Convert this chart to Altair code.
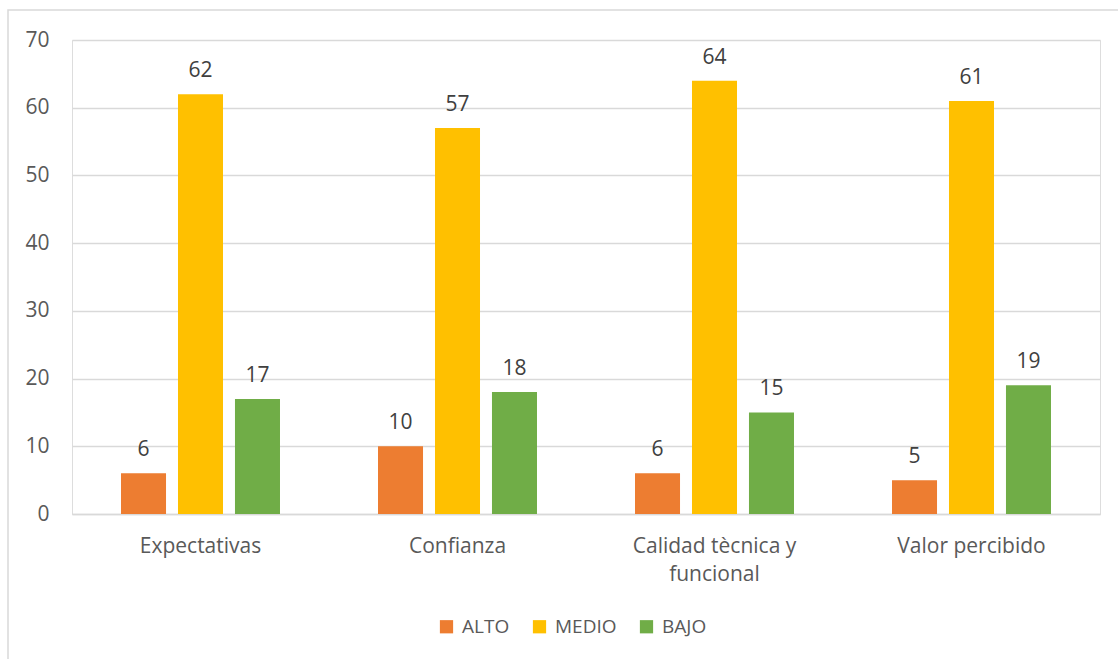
import altair as alt
import pandas as pd

categories = ["Expectativas", "Confianza", "Calidad tècnica y funcional", "Valor percibido"]
series = ["ALTO", "MEDIO", "BAJO"]
alto = [6, 10, 6, 5]
medio = [62, 57, 64, 61]
bajo = [17, 18, 15, 19]
colors = ["#ED7D31", "#FFC000", "#70AD47"]
y_ticks = [0, 10, 20, 30, 40, 50, 60, 70]

rows = []
for i, c in enumerate(categories):
    for s, vals in zip(series, [alto, medio, bajo]):
        rows.append({"cat": c, "serie": s, "valor": vals[i]})
df = pd.DataFrame(rows)

FONT = "Open Sans"
TXT = "#595959"
FS = 21

base = alt.Chart(df).encode(
    x=alt.X("cat:N", sort=categories, title=None,
            scale=alt.Scale(paddingInner=0, paddingOuter=0),
            axis=alt.Axis(labelAngle=0, labelFontSize=FS, labelColor=TXT, labelFont=FONT,
                          ticks=False, domainColor="#d9d9d9", domainWidth=1.5,
                          labelPadding=21, labelLineHeight=28,
                          labelExpr="datum.label == 'Calidad tècnica y funcional' ? ['Calidad tècnica y', 'funcional'] : datum.label")),
    xOffset=alt.XOffset("serie:N", sort=series,
                        scale=alt.Scale(paddingInner=0.21, paddingOuter=0.86)),
)

bars = base.mark_bar().encode(
    y=alt.Y("valor:Q", title=None,
            scale=alt.Scale(domain=[0, 70], nice=False),
            axis=alt.Axis(values=y_ticks, labelFontSize=FS, labelColor=TXT, labelFont=FONT,
                          ticks=False, domain=False, gridColor="#d9d9d9", gridWidth=1.5,
                          labelPadding=23)),
    color=alt.Color("serie:N", sort=series,
                    scale=alt.Scale(domain=series, range=colors),
                    legend=alt.Legend(title=None, orient="none", direction="horizontal",
                                      legendX=365, legendY=577, symbolType="square",
                                      symbolSize=175, symbolStrokeWidth=0,
                                      labelFontSize=19, labelColor=TXT, labelFont=FONT,
                                      labelOffset=6, columnPadding=20, padding=0)),
)

labels = base.mark_text(baseline="bottom", dy=-13, fontSize=FS, font=FONT, color="#404040").encode(
    y=alt.Y("valor:Q"),
    text=alt.Text("valor:Q"),
)

border = alt.Chart(pd.DataFrame({"a": [0]})).mark_rect(
    fill=None, stroke="#d9d9d9", strokeWidth=1.5
).encode(
    x=alt.value(-64), x2=alt.value(1060), y=alt.value(-30), y2=alt.value(640)
)

chart = alt.layer(border, bars, labels).properties(
    width=1028, height=474,
    padding={"left": 72, "top": 40, "right": 18, "bottom": 145},
    autosize=alt.AutoSizeParams(type="none"),
).configure_view(stroke=None).configure(background="white")

chart.save("out.html", embed_options={"renderer": "svg", "actions": False})
